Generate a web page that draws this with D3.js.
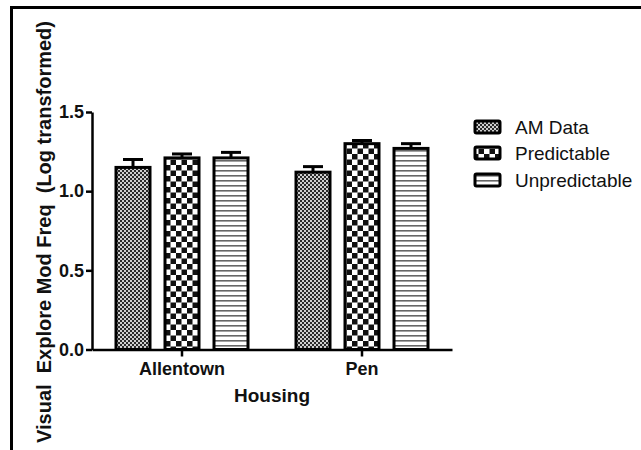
<!DOCTYPE html>
<html><head><meta charset="utf-8">
<script src="https://cdn.jsdelivr.net/npm/d3@7"></script>
<style>
body{margin:0;background:#fff}
svg{display:block}
text{font-family:"Liberation Sans",Arial,Helvetica,sans-serif;fill:#111}
</style>
</head><body>
<svg id="chart" width="641" height="450"></svg>
<script>
// Housing groups and the three conditions
const housing = ["Allentown", "Pen"];
const seriesNames = ["AM Data", "Predictable", "Unpredictable"];

// Mean (log transformed) per housing group
const meanAM = [1.15, 1.12];
const meanPred = [1.21, 1.30];
const meanUnpred = [1.21, 1.27];

// Standard error per housing group
const semAM = [0.05, 0.035];
const semPred = [0.025, 0.02];
const semUnpred = [0.035, 0.03];

const yTicks = [0, 0.5, 1.0, 1.5];

const means = [meanAM, meanPred, meanUnpred];
const sems = [semAM, semPred, semUnpred];
const patternIds = ["pat-am", "pat-pred", "pat-unpred"];

const rows = [];
housing.forEach((h, gi) => {
  seriesNames.forEach((s, si) => {
    rows.push({ group: h, series: s, si, value: means[si][gi], err: sems[si][gi] });
  });
});

const svg = d3.select("#chart");

// Fill patterns
const defs = svg.append("defs");
const pAM = defs.append("pattern").attr("id", "pat-am").attr("patternUnits", "userSpaceOnUse")
  .attr("width", 4).attr("height", 4);
pAM.append("rect").attr("width", 4).attr("height", 4).attr("fill", "#cfcfcf");
pAM.append("rect").attr("x", 0).attr("y", 0).attr("width", 2).attr("height", 2).attr("fill", "#2a2a2a");
pAM.append("rect").attr("x", 2).attr("y", 2).attr("width", 2).attr("height", 2).attr("fill", "#2a2a2a");

const pPred = defs.append("pattern").attr("id", "pat-pred").attr("patternUnits", "userSpaceOnUse")
  .attr("width", 11).attr("height", 11);
pPred.append("rect").attr("width", 11).attr("height", 11).attr("fill", "#fff");
pPred.append("rect").attr("x", 0).attr("y", 0).attr("width", 5.5).attr("height", 5.5).attr("fill", "#111");
pPred.append("rect").attr("x", 5.5).attr("y", 5.5).attr("width", 5.5).attr("height", 5.5).attr("fill", "#111");

const pUn = defs.append("pattern").attr("id", "pat-unpred").attr("patternUnits", "userSpaceOnUse")
  .attr("width", 10).attr("height", 5);
pUn.append("rect").attr("width", 10).attr("height", 5).attr("fill", "#fff");
pUn.append("rect").attr("x", 0).attr("y", 0).attr("width", 10).attr("height", 1.6).attr("fill", "#666");

// Outer frame (top and left edges visible)
svg.append("path")
  .attr("d", "M11.5,450 L11.5,7.5 L641,7.5")
  .attr("fill", "none").attr("stroke", "#000").attr("stroke-width", 3);

// Scales
const x = d3.scaleBand().domain(housing).range([92, 452]).padding(0);
const xInner = d3.scaleBand().domain(seriesNames).range([-66, 66])
  .paddingInner(15 / 49).paddingOuter(0);
const y = d3.scaleLinear().domain([0, 1.5]).range([349.5, 112]);

// Bars
const barG = svg.append("g");
barG.selectAll("rect.bar").data(rows).join("rect")
  .attr("class", "bar")
  .attr("x", d => x(d.group) + x.bandwidth() / 2 + xInner(d.series))
  .attr("y", d => y(d.value))
  .attr("width", xInner.bandwidth())
  .attr("height", d => y(0) - y(d.value))
  .attr("fill", d => `url(#${patternIds[d.si]})`)
  .attr("stroke", "#000").attr("stroke-width", 3);

// Error bars (upper only)
const errG = svg.append("g").attr("stroke", "#000").attr("stroke-width", 3);
rows.forEach(d => {
  const cx = x(d.group) + x.bandwidth() / 2 + xInner(d.series) + xInner.bandwidth() / 2;
  errG.append("line").attr("x1", cx).attr("x2", cx)
    .attr("y1", y(d.value)).attr("y2", y(d.value + d.err));
  errG.append("line").attr("x1", cx - 10).attr("x2", cx + 10)
    .attr("y1", y(d.value + d.err)).attr("y2", y(d.value + d.err));
});

// Y axis
const yAxis = svg.append("g").attr("transform", "translate(92,0)")
  .call(d3.axisLeft(y).tickValues(yTicks).tickFormat(d3.format(".1f")).tickSize(6).tickSizeOuter(0).tickPadding(2));
yAxis.select(".domain").attr("stroke", "#000").attr("stroke-width", 2.5);
yAxis.selectAll(".tick line").attr("stroke", "#000").attr("stroke-width", 2.5);
yAxis.selectAll(".tick text").attr("font-size", 18).attr("font-weight", "bold")
  .attr("font-family", "'Liberation Sans',Arial,sans-serif").attr("fill", "#111");

// X axis
const xAxis = svg.append("g").attr("transform", `translate(0,${y(0)})`)
  .call(d3.axisBottom(x).tickSize(7).tickSizeOuter(0).tickPadding(6));
xAxis.select(".domain").attr("stroke", "#000").attr("stroke-width", 2.5);
xAxis.selectAll(".tick line").attr("stroke", "#000").attr("stroke-width", 2.5);
xAxis.selectAll(".tick text").attr("font-size", 18).attr("font-weight", "bold")
  .attr("font-family", "'Liberation Sans',Arial,sans-serif").attr("fill", "#111");

// Axis titles
svg.append("text")
  .attr("x", 272).attr("y", 402)
  .attr("text-anchor", "middle").attr("font-size", 19).attr("font-weight", "bold")
  .text("Housing");

svg.append("text")
  .attr("transform", "translate(51,232) rotate(-90)")
  .attr("text-anchor", "middle").attr("font-size", 20).attr("font-weight", "bold")
  .attr("xml:space", "preserve").style("white-space", "pre")
  .text("Visual  Explore Mod Freq  (Log transformed)");

// Legend
const legendY = [127, 153, 180];
const legend = svg.append("g");
seriesNames.forEach((s, i) => {
  legend.append("rect")
    .attr("x", 475).attr("y", legendY[i] - 6)
    .attr("width", 25).attr("height", 12)
    .attr("fill", `url(#${patternIds[i]})`)
    .attr("stroke", "#000").attr("stroke-width", 3).attr("rx", 1.5);
  legend.append("text")
    .attr("x", 515).attr("y", legendY[i]).attr("dy", "0.36em")
    .attr("font-size", 19)
    .text(s);
});
</script>
</body></html>
